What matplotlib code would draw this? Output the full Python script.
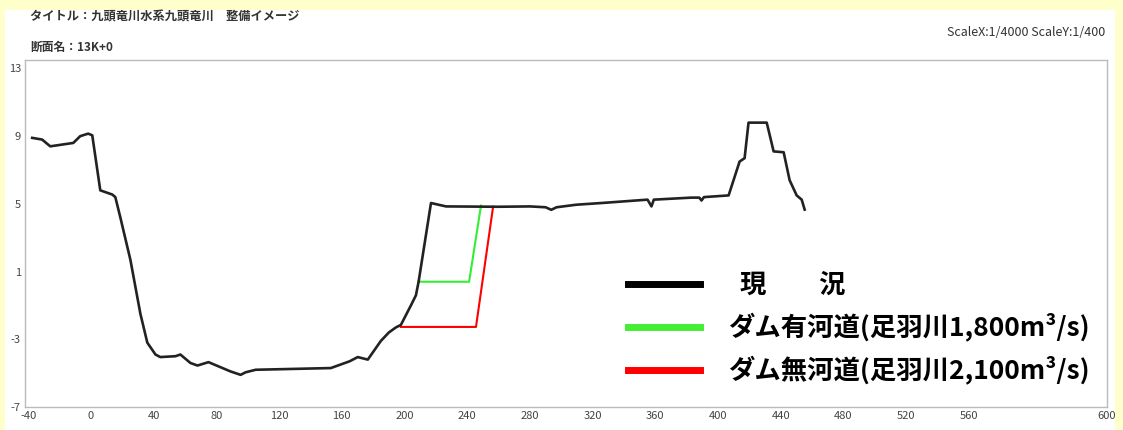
import matplotlib
matplotlib.use("Agg")
import matplotlib.pyplot as plt
from matplotlib.lines import Line2D
from matplotlib.patches import Rectangle

plt.rcParams['font.family'] = ['Noto Sans CJK JP', 'DejaVu Sans']

# ---- data (distance [m], elevation [m]) ----
current_x = [-37.4, -31.1, -25.9, -11.2, -6.8, -1.7, 0.9, 6.0, 13.7, 15.6, 18.8, 25.2,
             31.6, 36.0, 41.2, 44.3, 53.9, 57.1, 63.5, 68.0, 75.0, 82.7, 89.1, 95.5,
             98.7, 105.1, 153.0, 165.0, 170.2, 176.6, 184.9, 190.0, 194.5, 197.7, 204.1,
             207.3, 209.0, 216.9, 226.5, 260.0, 280.0, 290.0, 293.6, 297.0, 309.5, 325.5,
             355.0, 357.5, 359.0, 383.0, 388.0, 389.4, 391.0, 406.7, 413.7, 416.9, 419.4,
             431.0, 435.4, 441.8, 445.6, 450.1, 453.3, 455.2]
current_y = [8.9, 8.8, 8.4, 8.6, 9.0, 9.15, 9.05, 5.8, 5.55, 5.4, 4.2, 1.7,
             -1.5, -3.2, -3.9, -4.05, -4.0, -3.9, -4.4, -4.55, -4.35, -4.65, -4.9, -5.1,
             -4.95, -4.8, -4.7, -4.3, -4.05, -4.2, -3.1, -2.6, -2.3, -2.15, -1.0,
             -0.4, 0.4, 5.05, 4.85, 4.83, 4.85, 4.8, 4.65, 4.8, 4.95, 5.05,
             5.25, 4.85, 5.25, 5.37, 5.37, 5.2, 5.4, 5.5, 7.5, 7.7, 9.8,
             9.8, 8.1, 8.05, 6.4, 5.5, 5.25, 4.66]

dam_x = [209.0, 241.2, 248.8]
dam_y = [0.4, 0.4, 4.9]

nodam_x = [197.7, 245.6, 256.5]
nodam_y = [-2.27, -2.27, 4.83]

labels = ['  現\u3000\u3000況', 'ダム有河道(足羽川1,800m³/s)', 'ダム無河道(足羽川2,100m³/s)']

x_ticks = [-40, 0, 40, 80, 120, 160, 200, 240, 280, 320, 360, 400, 440, 480, 520, 560]
x_tick_labels = ['-40', '0', '40', '80', '120', '160', '200', '240', '280', '320',
                 '360', '400', '440', '480', '520', '560']
y_ticks = [-7, -3, 1, 5, 9, 13]

# ---- figure ----
W, H = 1123, 430
fig = plt.figure(figsize=(W / 100, H / 100), dpi=100)
fig.patch.set_facecolor('#FFFFCC')
fig.patches.append(Rectangle((5 / W, 0), (1115 - 5) / W, 1 - 10 / H,
                             transform=fig.transFigure, facecolor='white',
                             edgecolor='none', zorder=-5))

ax = fig.add_axes([25 / W, 1 - 407 / H, (1107 - 25) / W, (407 - 60) / H])
ax.set_facecolor('white')
ax.set_xlim(-42, 648)
ax.set_ylim(-7, 13.5)

ax.plot(nodam_x, nodam_y, color='#FF0000', lw=1.5, zorder=3)
ax.plot(dam_x, dam_y, color='#33EE33', lw=1.5, zorder=3)
ax.plot(current_x, current_y, color='#222222', lw=1.9, zorder=4)

# ticks
ax.set_xticks(x_ticks + [648])
ax.set_xticklabels(x_tick_labels + ['600'])
ax.set_yticks(y_ticks)
ax.set_yticklabels([str(v) for v in y_ticks])
ax.tick_params(axis='both', labelsize=8, colors='#444444', length=0, pad=3)
for s in ax.spines.values():
    s.set_color('#BBBBBB')
    s.set_linewidth(1.0)

# header texts
fig.text(30 / W, 1 - 17 / H, 'タイトル：九頭竜川水系九頭竜川\u3000整備イメージ',
         fontsize=8.8, color='#333333', va='center', ha='left', fontweight='bold')
fig.text(30 / W, 1 - 47 / H, '断面名：13K+0',
         fontsize=8.5, color='#333333', va='center', ha='left', fontweight='bold')
fig.text(1105 / W, 1 - 32 / H, 'ScaleX:1/4000 ScaleY:1/400',
         fontsize=9, color='#333333', va='center', ha='right')

# legend
handles = [Line2D([], [], color='black', lw=5),
           Line2D([], [], color='#44EE33', lw=5),
           Line2D([], [], color='#FF0000', lw=5)]
leg = ax.legend(handles, labels, loc='upper left',
                bbox_to_anchor=(628 / W, 1 - 272 / H), bbox_transform=fig.transFigure,
                frameon=False, borderpad=0, borderaxespad=0,
                handlelength=2.73, handletextpad=1.06, labelspacing=0.53,
                prop={'size': 19, 'weight': 'bold'})
for t in leg.get_texts():
    t.set_color('black')

fig.savefig('out.png', dpi=100, facecolor=fig.get_facecolor())
